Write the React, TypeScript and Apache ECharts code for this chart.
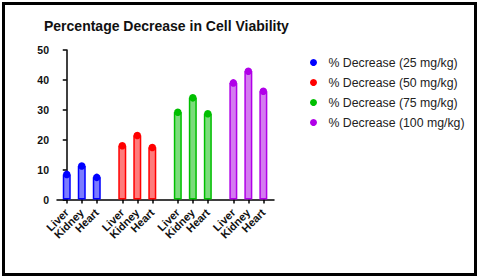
import React, { useEffect, useRef } from "react";
import * as echarts from "echarts";

const organs = ["Liver", "Kidney", "Heart"];
const doses = ["% Decrease (25 mg/kg)", "% Decrease (50 mg/kg)", "% Decrease (75 mg/kg)", "% Decrease (100 mg/kg)"];
const dose25 = [8.4, 11.2, 7.4];
const dose50 = [18.0, 21.4, 17.4];
const dose75 = [29.2, 34.0, 28.7];
const dose100 = [39.0, 42.9, 36.2];
const yTicks = [0, 10, 20, 30, 40, 50];

const seriesValues = [dose25, dose50, dose75, dose100];
const strokeColors = ["#0000ff", "#ff0000", "#00bf00", "#b000e8"];
const fillColors = ["#7b7bff", "#ff7b7b", "#7bdc7b", "#d47bf0"];
const GROUP_STEP = 3.7;
const X_MIN = -0.65;
const X_MAX = 3 * GROUP_STEP + 2 + 0.71;

export default function App() {
  const ref = useRef<HTMLDivElement>(null);
  useEffect(() => {
    if (!ref.current) return;
    const chart = echarts.init(ref.current, undefined, { renderer: "svg" });
    const positions: number[] = [];
    const names: string[] = [];
    seriesValues.forEach((_, g) => organs.forEach((o, i) => { positions.push(g * GROUP_STEP + i); names.push(o); }));
    const labelFor = (v: number) => {
      let best = 0;
      positions.forEach((p, k) => { if (Math.abs(p - v) < Math.abs(positions[best] - v)) best = k; });
      return Math.abs(positions[best] - v) < 0.01 ? names[best] : "";
    };
    const barData: any[] = [];
    seriesValues.forEach((vals, g) => {
      vals.forEach((v, i) => {
        barData.push({
          value: [g * GROUP_STEP + i, v],
          itemStyle: { color: fillColors[g], borderColor: strokeColors[g], borderWidth: 1.5 },
        });
      });
    });
    const series: any[] = [
      {
        type: "bar",
        name: "bars",
        barWidth: 8,
        data: barData,
        silent: true,
      },
    ];
    seriesValues.forEach((vals, g) => {
      series.push({
        type: "scatter",
        name: doses[g],
        symbol: "circle",
        symbolSize: 7.5,
        data: vals.map((v, i) => [g * GROUP_STEP + i, v]),
        itemStyle: { color: strokeColors[g], opacity: 1 },
        z: 5,
      });
    });
    chart.setOption({
      animation: false,
      backgroundColor: "#ffffff",
      title: {
        text: "Percentage Decrease in Cell Viability",
        left: 39,
        top: 14,
        textStyle: { fontFamily: "Liberation Sans", fontWeight: "bold", fontSize: 14, color: "#111" },
      },
      legend: {
        orient: "vertical",
        left: 305,
        top: 51,
        data: doses,
        icon: "circle",
        itemWidth: 20,
        itemHeight: 7,
        itemGap: 7,
        textStyle: { fontFamily: "Liberation Sans", fontSize: 12.3, color: "#222", lineHeight: 13 },
      },
      grid: { left: 57, right: 206, top: 50, bottom: 79.5, containLabel: false },
      xAxis: {
        type: "value",
        min: X_MIN,
        max: X_MAX,
        splitLine: { show: false },
        axisLine: { show: true, onZero: false, lineStyle: { color: "#000", width: 1.5 } },
        axisTick: { show: true, customValues: positions, length: 4, lineStyle: { color: "#000", width: 1.5 } },
        axisLabel: {
          customValues: [X_MIN, ...positions, X_MAX],
          formatter: (v: number) => labelFor(v),
          rotate: 45,
          margin: 11,
          hideOverlap: false,
          fontFamily: "Liberation Sans",
          fontWeight: "bold",
          fontSize: 11,
          color: "#111",
        },
      },
      yAxis: {
        type: "value",
        min: yTicks[0],
        max: yTicks[yTicks.length - 1],
        interval: 10,
        splitLine: { show: false },
        axisLine: { show: true, lineStyle: { color: "#000", width: 1.5 } },
        axisTick: { show: true, length: 4, lineStyle: { color: "#000", width: 1.5 } },
        axisLabel: { margin: 8, fontFamily: "Liberation Sans", fontWeight: "bold", fontSize: 10.5, color: "#111" },
      },
      graphic: [
        {
          type: "rect",
          shape: { x: 3.5, y: 3.5, width: 472, height: 271 },
          style: { fill: "none", stroke: "#000", lineWidth: 3 },
          silent: true,
        },
      ],
      series,
    });
    return () => chart.dispose();
  }, []);
  return (
    <div
      ref={ref}
      style={{ position: "fixed", left: 0, top: 0, width: 480, height: 279, background: "#fff" }}
    />
  );
}
